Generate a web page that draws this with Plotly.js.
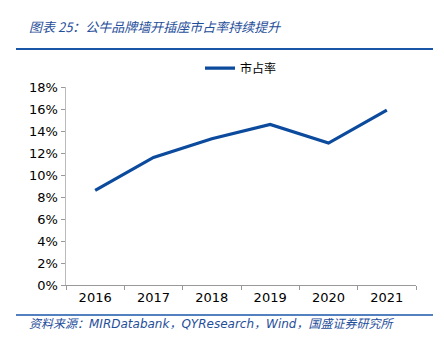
<!DOCTYPE html>
<html><head><meta charset="utf-8">
<script src="https://cdn.plot.ly/plotly-3.0.1.min.js"></script>
<style>html,body{margin:0;padding:0;background:#fff;}#c{width:444px;height:350px;}</style>
</head><body><div id="c"></div>
<script>
const years = ['2016','2017','2018','2019','2020','2021'];
const share = [0.086, 0.116, 0.133, 0.146, 0.129, 0.159];
const yTicks = [0,0.02,0.04,0.06,0.08,0.10,0.12,0.14,0.16,0.18];
const yTickText = ['0%','2%','4%','6%','8%','10%','12%','14%','16%','18%'];
const seriesName = '市占率';
const titleText = '图表 25：公牛品牌墙开插座市占率持续提升';
const sourceText = '资料来源：MIRDatabank，QYResearch，Wind，国盛证券研究所';

const blue = '#0b4a9c';
const trace = {
  x: years, y: share, type: 'scatter', mode: 'lines', name: seriesName,
  line: {color: blue, width: 3.2}
};
const layout = {
  width: 444, height: 350,
  margin: {l: 66, r: 28, t: 87, b: 65},
  paper_bgcolor: '#fff', plot_bgcolor: '#fff',
  font: {family: 'DejaVu Sans, Verdana, sans-serif', size: 12, color: '#000'},
  showlegend: true,
  legend: {orientation: 'h', x: 0.5, xanchor: 'center', y: 1.095, yanchor: 'middle',
    itemwidth: 30,
    font: {family: 'Noto Sans CJK SC, sans-serif', size: 12, color: '#000'}},
  xaxis: {
    type: 'category', range: [-0.5, 5.5], showgrid: false, zeroline: false,
    showline: true, linecolor: '#999', linewidth: 1,
    ticks: 'outside', ticklen: 4, tickcolor: '#999', tickson: 'boundaries',
    tickfont: {size: 13, color: '#000'}, fixedrange: true
  },
  yaxis: {
    range: [0, 0.18], tickvals: yTicks, ticktext: yTickText, showgrid: false, zeroline: false,
    showline: true, linecolor: '#bbb', linewidth: 1.5,
    ticks: 'outside', ticklen: 4, tickcolor: '#999',
    tickfont: {size: 13, color: '#000'}, fixedrange: true
  },
  shapes: [
    {type: 'line', xref: 'paper', yref: 'paper', x0: -50/350, x1: 367/350,
      y0: 1 + 38/198, y1: 1 + 38/198, line: {color: '#1a56a8', width: 2}},
    {type: 'line', xref: 'paper', yref: 'paper', x0: -50/350, x1: 367/350,
      y0: -30/198, y1: -30/198, line: {color: '#1a56a8', width: 1.5}}
  ],
  annotations: [
    {text: titleText, xref: 'paper', yref: 'paper', x: -39/350, y: 1 + 61/198,
      xanchor: 'left', yanchor: 'middle', showarrow: false,
      font: {family: 'Noto Sans CJK SC, sans-serif', size: 13, color: '#1f4e9a', style: 'italic'}},
    {text: sourceText, xref: 'paper', yref: 'paper', x: -39/350, y: -39/198,
      xanchor: 'left', yanchor: 'middle', showarrow: false,
      font: {family: 'DejaVu Sans, Noto Sans CJK SC, sans-serif', size: 12, color: '#1f4e9a', style: 'italic'}}
  ]
};
Plotly.newPlot('c', [trace], layout, {displayModeBar: false, staticPlot: true});
</script></body></html>
